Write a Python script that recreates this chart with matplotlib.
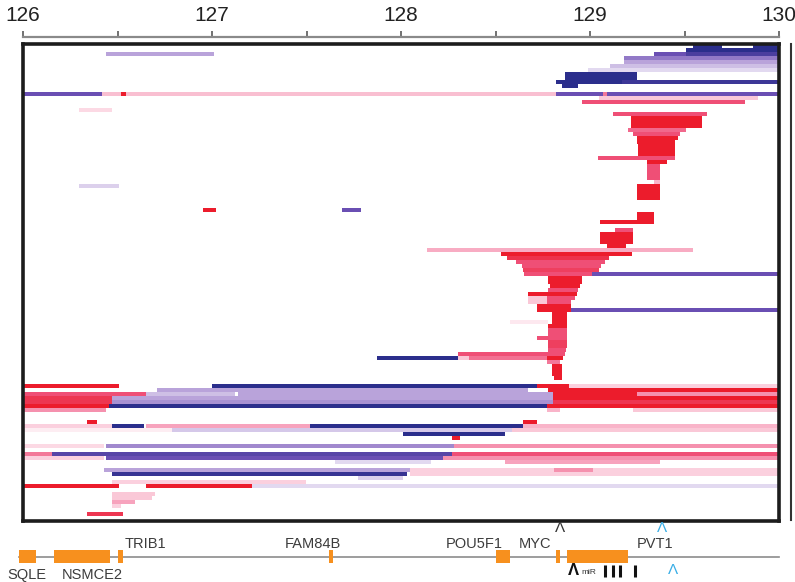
import matplotlib
matplotlib.use("Agg")
import matplotlib.pyplot as plt
from matplotlib.colors import LinearSegmentedColormap, Normalize
from matplotlib.lines import Line2D

plt.rcParams['font.family'] = ['Liberation Sans', 'DejaVu Sans']

# copy-number segments: (sample row, start Mb, end Mb, level -3 deletion .. +3 gain)
top_block = [
    (0, 129.545, 129.70, -3), (0, 129.86, 130.0, -3),
    (1, 129.51, 130.0, -3),
    (2, 126.44, 127.01, -1.0), (2, 129.34, 129.51, -2), (2, 129.51, 130.0, -2.5),
    (3, 129.18, 130.0, -1.5),
    (4, 129.18, 130.0, -1.0),
    (5, 129.105, 130.0, -0.7),
    (6, 128.99, 130.0, -0.4),
    (7, 128.87, 129.25, -3), (8, 128.87, 129.25, -3),
    (9, 128.82, 129.17, -3), (9, 129.17, 130.0, -2.7),
    (10, 128.85, 128.935, -3),
    (12, 126.0, 126.42, -2), (12, 126.42, 128.82, 0.7), (12, 126.52, 126.546, 3),
    (12, 128.82, 129.07, -2), (12, 129.07, 129.09, 1.5), (12, 129.09, 130.0, -2),
]

gain_cluster = [
    (13, 129.05, 129.89, 0.6),
    (14, 128.96, 129.82, 2),
    (16, 126.297, 126.47, 0.4),
    (17, 129.12, 129.62, 2),
    (18, 129.215, 129.59, 3), (19, 129.215, 129.59, 3), (20, 129.215, 129.59, 3),
    (21, 129.20, 129.51, 1.7),
    (22, 129.225, 129.475, 2),
    (23, 129.25, 129.465, 3), (24, 129.25, 129.45, 3), (25, 129.255, 129.45, 3),
    (26, 129.255, 129.45, 3), (27, 129.255, 129.45, 3),
    (28, 129.04, 129.45, 2),
    (29, 129.30, 129.41, 3),
    (30, 129.30, 129.37, 2), (31, 129.30, 129.37, 2), (32, 129.30, 129.37, 2),
    (33, 129.30, 129.37, 2),
    (34, 129.34, 129.37, 0.8),
    (35, 126.297, 126.51, -0.5),
    (35, 129.25, 129.37, 3), (36, 129.25, 129.37, 3), (37, 129.25, 129.37, 3),
    (38, 129.25, 129.37, 3),
    (41, 126.95, 127.02, 3), (41, 127.69, 127.79, -2),
    (42, 129.25, 129.34, 3), (43, 129.25, 129.34, 3),
    (44, 129.055, 129.34, 3),
    (46, 129.13, 129.225, 2),
    (47, 129.055, 129.225, 3), (48, 129.055, 129.225, 3), (49, 129.055, 129.225, 3),
    (50, 129.09, 129.19, 3),
]

mid_cluster = [
    (51, 128.135, 129.545, 0.9),
    (52, 128.53, 129.22, 3),
    (53, 128.56, 129.10, 2.6),
    (54, 128.61, 129.08, 2),
    (55, 128.64, 129.06, 2),
    (56, 128.645, 129.05, 2.3),
    (57, 128.65, 129.01, 2), (57, 129.01, 130.0, -2),
    (58, 128.78, 128.96, 3), (59, 128.78, 128.96, 3),
    (60, 128.79, 128.945, 3),
    (61, 128.78, 128.935, 2),
    (62, 128.67, 128.93, 3),
    (63, 128.67, 128.77, 0.6), (63, 128.77, 128.92, 2),
    (64, 128.67, 128.77, 0.6), (64, 128.77, 128.90, 2),
    (65, 128.72, 128.90, 3),
    (66, 128.72, 128.90, 3), (66, 128.90, 130.0, -2),
    (67, 128.80, 128.88, 3), (68, 128.80, 128.88, 3),
    (69, 128.575, 128.78, 0.25), (69, 128.80, 128.88, 3),
    (70, 128.78, 128.88, 3),
    (71, 128.78, 128.88, 2), (72, 128.78, 128.88, 2),
    (73, 128.72, 128.88, 2),
    (74, 128.78, 128.88, 2.3), (75, 128.78, 128.88, 2.3),
    (76, 128.78, 128.875, 2),
    (77, 128.30, 128.87, 2),
    (78, 127.875, 128.30, -3), (78, 128.30, 128.36, 0.6), (78, 128.36, 128.77, 1.6),
    (78, 128.77, 128.855, 3),
    (79, 128.77, 128.84, 1.5),
    (80, 128.80, 128.85, 3), (81, 128.80, 128.85, 3), (82, 128.80, 128.85, 3),
    (83, 128.81, 128.85, 3),
]

bottom_block = [
    (85, 126.0, 126.51, 3), (85, 127.0, 128.72, -3), (85, 128.72, 128.89, 3),
    (85, 128.89, 130.0, 0.5),
    (86, 126.71, 128.67, -1), (86, 128.78, 130.0, 3),
    (87, 126.0, 126.65, 2), (87, 126.65, 127.12, -0.7), (87, 127.14, 128.805, -1),
    (87, 128.805, 129.25, 3), (87, 129.25, 130.0, 1.2),
    (88, 126.0, 126.47, 2.5), (88, 126.47, 128.805, -1), (88, 128.805, 130.0, 3),
    (89, 126.0, 126.47, 2.5), (89, 126.47, 128.805, -1.2), (89, 128.805, 130.0, 2.5),
    (90, 126.0, 126.456, 3), (90, 126.456, 128.77, -3), (90, 128.77, 130.0, 3),
    (91, 126.0, 126.44, 1.2), (91, 128.77, 128.84, 0.8), (91, 129.225, 130.0, 0.6),
    (94, 126.339, 126.392, 3), (94, 128.645, 128.72, 3),
    (95, 126.0, 126.47, 0.5), (95, 126.47, 126.64, -3), (95, 126.65, 127.52, 1),
    (95, 127.52, 128.645, -3), (95, 128.645, 130.0, 0.8),
    (96, 126.0, 126.79, 0.2), (96, 126.79, 128.585, -0.6), (96, 128.585, 130.0, 0.6),
    (97, 128.01, 128.55, -3),
    (98, 128.27, 128.31, 3),
    (100, 126.0, 126.43, 0.4), (100, 126.44, 128.28, -1.3), (100, 128.28, 130.0, 1.2),
    (102, 126.0, 126.154, 1.5), (102, 126.154, 128.27, -2.3), (102, 128.27, 130.0, 2),
    (103, 126.0, 126.43, 0.5), (103, 126.44, 128.22, -2), (103, 128.22, 130.0, 1.2),
    (104, 127.65, 128.16, -0.4), (104, 128.55, 129.37, 1),
    (106, 126.43, 128.045, -1), (106, 128.045, 130.0, 0.5), (106, 128.81, 129.015, 1.2),
    (107, 126.47, 128.03, -2.8), (107, 128.045, 130.0, 0.5),
    (108, 127.77, 128.01, -0.5),
    (109, 126.47, 127.50, 0.5),
    (110, 126.0, 126.51, 3), (110, 126.65, 127.21, 3), (110, 127.21, 130.0, -0.4),
    (112, 126.47, 126.70, 0.6),
    (113, 126.47, 126.68, 0.6),
    (114, 126.47, 126.59, 1),
    (115, 126.47, 126.52, 0.5),
    (117, 126.339, 126.53, 2.5),
]

n_rows = 119.25

# gene track
gene_names = ['SQLE', 'NSMCE2', 'TRIB1', 'FAM84B', 'POU5F1', 'MYC', 'PVT1']
gene_start = [125.98, 126.164, 126.50, 127.62, 128.50, 128.82, 128.877]
gene_end = [126.07, 126.46, 126.53, 127.64, 128.575, 128.84, 129.20]
label_x = [126.02, 126.366, 126.54, 127.534, 128.39, 128.707, 129.343]
label_above = [False, False, True, True, True, True, True]
mir_ticks = [129.08, 129.12, 129.16, 129.24]

level_colors = ['#2b2e8c', '#6b4fb3', '#b9a3da', '#ffffff', '#f7a3bd', '#ef5077', '#ec1c2c']
cmap = LinearSegmentedColormap.from_list('cn', level_colors)
norm = Normalize(-3, 3)

W, H = 795, 582
fig = plt.figure(figsize=(W / 100, H / 100), dpi=100)
ax = fig.add_axes([23 / W, 1 - 520.5 / H, 756 / W, 477 / H])

for block in (top_block, gain_cluster, mid_cluster, bottom_block):
    for row, start, end, level in block:
        ax.barh(row, end - start, left=start, height=1, align='edge',
                color=cmap(norm(level)), linewidth=0)

ax.set_xlim(126, 130)
ax.set_ylim(n_rows, 0)
ax.set_xticks([])
ax.set_yticks([])
for sp in ax.spines.values():
    sp.set_linewidth(2.6)
    sp.set_color('#1c1c1c')

# ruler above the frame
sec = ax.secondary_xaxis(1.013)
sec.set_xticks([126 + 0.5 * i for i in range(9)])
sec.set_xticklabels([str(126 + i // 2) if i % 2 == 0 else '' for i in range(9)],
                    fontsize=15, color='#222222')
sec.tick_params(direction='out', length=4.5, width=1.3, color='#666666', pad=4)
sec.spines['top'].set_color('#8a8a8a')
sec.spines['top'].set_linewidth(1.6)

fig.add_artist(Line2D([790.5 / W] * 2, [1 - 44 / H, 1 - 520 / H], color='#333333', lw=1.5))

# gene track
axg = fig.add_axes([23 / W, 0, 756 / W, 60 / H])
axg.set_xlim(126, 130)
axg.set_ylim(0, 1)
axg.axis('off')
axg.plot([125.98, 130.0], [0.417, 0.417], color='#8c8c8c', lw=1.2, clip_on=False, zorder=1)
for name, s, e, lx, above in zip(gene_names, gene_start, gene_end, label_x, label_above):
    axg.barh(0.425, e - s, left=s, height=0.216, color='#f7901e', linewidth=0,
             clip_on=False, zorder=2)
    axg.text(lx, 0.63 if above else 0.117, name, fontsize=10.5, color='#3c3c3c',
             ha='left' if name == 'TRIB1' else 'center', va='center', clip_on=False)

axg.text(128.84, 0.9, 'Λ', fontsize=11, color='#333333', ha='center', va='center')
axg.text(129.38, 0.9, 'Λ', fontsize=11, color='#3aaee6', ha='center', va='center')
axg.text(129.44, 0.2, 'Λ', fontsize=11, color='#3aaee6', ha='center', va='center')
axg.text(128.91, 0.19, 'Λ', fontsize=12, color='#111111', ha='center', va='center',
         fontweight='bold')
axg.text(128.955, 0.15, 'miR', fontsize=6, color='#333333', ha='left', va='center')
axg.vlines(mir_ticks, 0.08, 0.28, color='#111111', lw=2.2)

fig.savefig('out.png', dpi=100)
